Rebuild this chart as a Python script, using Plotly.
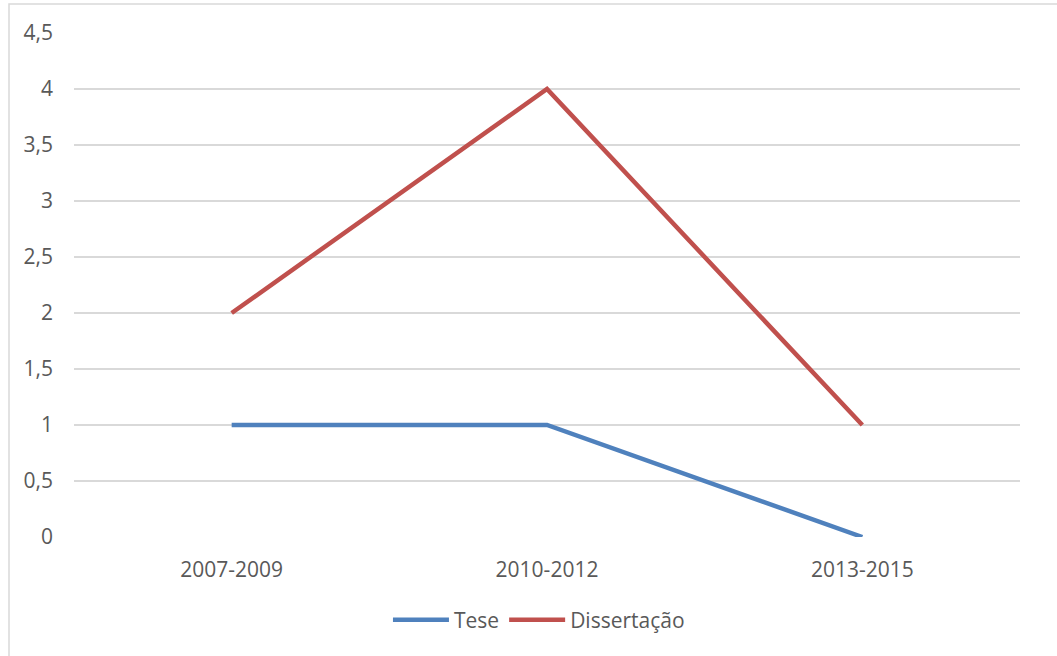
import plotly.graph_objects as go

# Periods and counts per type of work
periods = ["2007-2009", "2010-2012", "2013-2015"]
tese = [1, 1, 0]
dissertacao = [2, 4, 1]
y_ticks = [0, 0.5, 1, 1.5, 2, 2.5, 3, 3.5, 4, 4.5]
y_tick_text = ["0", "0,5", "1", "1,5", "2", "2,5", "3", "3,5", "4", "4,5"]

W, H = 1057, 656
L, R, T, B = 74, 37, 33, 119
pw, ph = W - L - R, H - T - B

font = dict(family="Open Sans, Noto Sans, sans-serif", size=21, color="#595959")

fig = go.Figure()
fig.add_trace(go.Scatter(x=periods, y=tese, mode="lines", name="Tese",
                         line=dict(color="#4F81BD", width=4.5)))
fig.add_trace(go.Scatter(x=periods, y=dissertacao, mode="lines", name="Dissertação",
                         line=dict(color="#C0504D", width=4.5)))

# Chart-area outline, extending past the page on the right and bottom
fig.add_shape(type="rect", xref="paper", yref="paper",
              x0=(9 - L) / pw, x1=(W + 10 - L) / pw,
              y0=-(H + 10 - (H - B)) / ph, y1=1 + (T - 4) / ph,
              line=dict(color="#D9D9D9", width=1.5), fillcolor="rgba(0,0,0,0)",
              layer="below")

fig.update_layout(
    width=W, height=H,
    margin=dict(l=L, r=R, t=T, b=B),
    paper_bgcolor="white", plot_bgcolor="white",
    font=font,
    showlegend=True,
    legend=dict(orientation="h", x=0.4915, xanchor="center", y=-0.165, yanchor="middle",
                font=font, itemwidth=56, tracegroupgap=0),
    xaxis=dict(range=[-0.5, 2.5], showgrid=False, zeroline=False, showline=False,
               ticks="", ticklabelstandoff=18, tickfont=font),
    yaxis=dict(range=[0, 4.5], tickvals=y_ticks, ticktext=y_tick_text,
               showgrid=True, gridcolor="#D9D9D9", gridwidth=1.5,
               zeroline=False, showline=False, ticks="",
               ticklabelstandoff=20, tickfont=font),
)

fig.write_html("out.html")
